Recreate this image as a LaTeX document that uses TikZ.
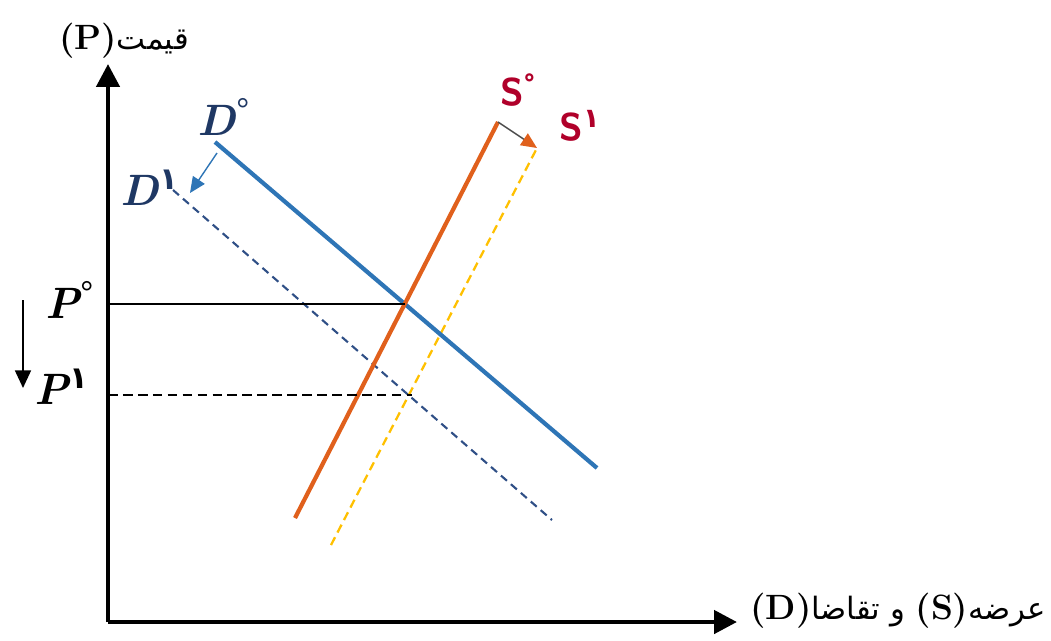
\documentclass[tikz,border=0pt]{standalone}
\usepackage{fontspec}
\newfontfamily\arabicfont[Script=Arabic]{DejaVu Sans}
\TeXXeTstate=1
\usepackage{tikz}
\usetikzlibrary{arrows.meta, calc}

\definecolor{dblue}{HTML}{2E75B6}
\definecolor{dnavy}{HTML}{2F4F86}
\definecolor{sorange}{HTML}{E0601C}
\definecolor{syellow}{HTML}{FFC000}
\definecolor{lblblue}{HTML}{1F3864}
\definecolor{lblred}{HTML}{B0002A}

\newcommand{\crv}[2]{#1\textsuperscript{#2}}
\newcommand{\fa}{\arabicfont\fontsize{17.5}{20}\selectfont}

\begin{document}
\begin{tikzpicture}[x=0.02cm, y=-0.02cm,
        axis/.style={line width=2.6pt, -{Triangle[length=13pt, width=13pt]}},
        demand/.style={draw=dblue, line width=2.4pt},
        demandnew/.style={draw=dnavy, line width=1.2pt, dash pattern=on 4.5pt off 3pt},
        supply/.style={draw=sorange, line width=2.4pt},
        supplynew/.style={draw=syellow, line width=1.3pt, dash pattern=on 5pt off 3pt},
        price/.style={line width=1.1pt},
        curvelbl/.style={font=\fontsize{25}{30}\selectfont\bfseries\itshape, inner sep=0pt},
        slbl/.style={font=\fontsize{22}{26}\selectfont\sffamily\bfseries, text=lblred, inner sep=0pt},
        axislbl/.style={inner sep=0pt}
    ]
        \useasboundingbox (0,0) rectangle (1051,640);

        % Axes
        \coordinate (o) at (108,622);
        \coordinate (ytop) at (108,64);
        \coordinate (xend) at (737,622);
        \draw[axis] (o) -- (ytop);
        \draw[axis] (o) -- (xend);
        \node[axislbl] (ylbl) at (124,41) {\fontsize{20}{22}\selectfont\textbf{(P)}{\fa\beginR قیمت\endR}};
        \node[axislbl, anchor=west] (xlbl) at (750,611) {\fontsize{20}{22}\selectfont\textbf{(D)}{\fa\beginR و تقاضا\endR} \textbf{(S)}{\fa\beginR عرضه\endR}};

        % Curve ends
        \coordinate (d0a) at (215,142);
        \coordinate (d0b) at (597,468);
        \coordinate (d1a) at (173,190);
        \coordinate (d1b) at (552,520);
        \coordinate (s0a) at (295,518);
        \coordinate (s0b) at (498,122);
        \coordinate (s1a) at (331,545);
        \coordinate (s1b) at (537,148);

        % Curves
        \draw[supplynew] (s1a) -- (s1b);
        \draw[demandnew] (d1a) -- (d1b);
        \draw[demand] (d0a) -- (d0b);
        \draw[supply] (s0a) -- (s0b);

        % Equilibria
        \coordinate (e0) at (intersection of d0a--d0b and s0a--s0b);
        \coordinate (e1) at (intersection of d1a--d1b and s1a--s1b);
        \draw[price] (o |- e0) -- (e0);
        \draw[price, dash pattern=on 5.5pt off 3pt] (o |- e1) -- ($(e1)+(3,0)$);

        % Shifts
        \coordinate (dfrom) at (217,153);
        \coordinate (dto) at (190,193);
        \draw[draw=dblue, line width=0.8pt, -{Triangle[length=9pt, width=8pt]}] (dfrom) -- (dto);
        \draw[draw=black!70, line width=0.8pt, -{Triangle[length=9pt, width=8pt, color=sorange]}] (s0b) -- (s1b);
        \coordinate (pfrom) at (23,300);
        \coordinate (pto) at (23,388);
        \draw[line width=1.2pt, -{Triangle[length=10pt, width=9pt]}] (pfrom) -- (pto);

        % Labels
        \node[curvelbl, text=lblblue] (d0lbl) at (224,117) {\crv{D}{\normalfont\bfseries °}};
        \node[curvelbl, text=lblblue] (d1lbl) at (150,188) {\crv{D}{\arabicfont\upshape ۱}};
        \node[slbl] (s0lbl) at (518,90) {\crv{S}{°}};
        \node[slbl] (s1lbl) at (580,126) {\crv{S}{\arabicfont ۱}};
        \node[curvelbl] (p0lbl) at (70,300) {\crv{P}{\normalfont\bfseries °}};
        \node[curvelbl] (p1lbl) at (62,387) {\crv{P}{\arabicfont\upshape ۱}};
\end{tikzpicture}
\end{document}
